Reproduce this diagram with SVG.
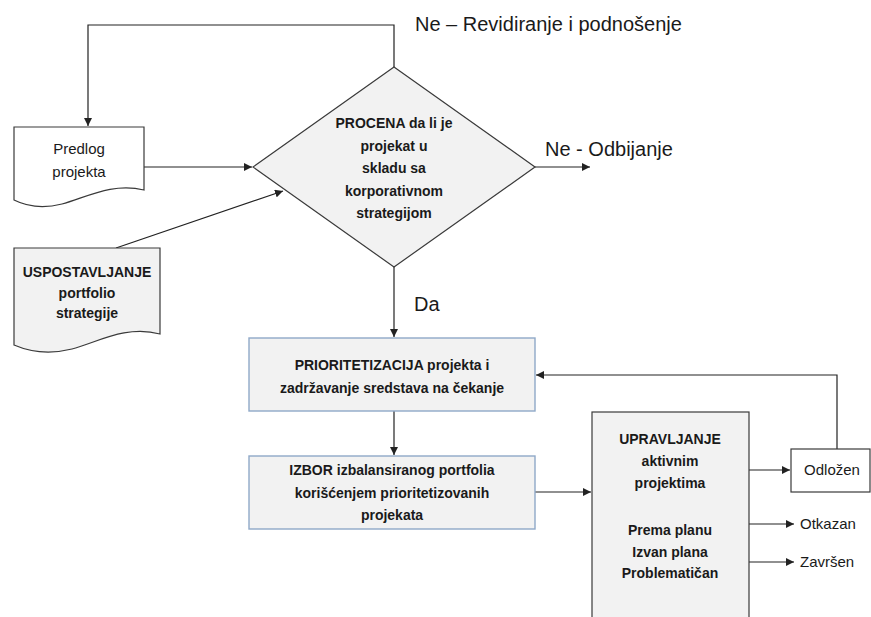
<svg xmlns="http://www.w3.org/2000/svg" width="871" height="617" viewBox="0 0 871 617">
  <style>
    .bg { fill: #ffffff; }
    .shape { stroke: #3a3a3a; stroke-width: 1.2; }
    .white { fill: #ffffff; }
    .grey { fill: #f2f2f2; }
    .step { fill: #f2f2f2; stroke: #8fa9c8; stroke-width: 1.4; }
    .line { fill: none; stroke: #222222; stroke-width: 1.2; }
    text { font-family: "Liberation Sans", Arial, sans-serif; fill: #1a1a1a; }
    .b { font-weight: bold; font-size: 14px; text-anchor: middle; }
    .n { font-size: 15px; text-anchor: middle; }
    .lbl { font-size: 15px; }
    .big { font-size: 20px; }
  </style>
  <defs>
    <marker id="arrow" viewBox="0 0 10 10" refX="10" refY="5" markerWidth="8" markerHeight="8" markerUnits="userSpaceOnUse" orient="auto">
      <path d="M0,0 L10,5 L0,10 Z" fill="#222222"/>
    </marker>
  </defs>

  <rect class="bg" x="0" y="0" width="871" height="617"/>

  <!-- connectors -->
  <g id="connectors">
    <polyline class="line" points="394,67 394,25 88,25 88,126" marker-end="url(#arrow)"/>
    <line class="line" x1="144" y1="167" x2="252" y2="167" marker-end="url(#arrow)"/>
    <line class="line" x1="116" y1="248" x2="283" y2="191" marker-end="url(#arrow)"/>
    <line class="line" x1="535" y1="167" x2="590" y2="167" marker-end="url(#arrow)"/>
    <line class="line" x1="394" y1="267" x2="394" y2="337" marker-end="url(#arrow)"/>
    <line class="line" x1="394" y1="411" x2="394" y2="455" marker-end="url(#arrow)"/>
    <line class="line" x1="535" y1="492" x2="591" y2="492" marker-end="url(#arrow)"/>
    <polyline class="line" points="837,449 837,375 536,375" marker-end="url(#arrow)"/>
    <line class="line" x1="749" y1="470" x2="790" y2="470" marker-end="url(#arrow)"/>
    <line class="line" x1="749" y1="524" x2="794" y2="524" marker-end="url(#arrow)"/>
    <line class="line" x1="749" y1="562" x2="794" y2="562" marker-end="url(#arrow)"/>
  </g>

  <!-- edge labels -->
  <text class="big" x="415" y="31">Ne – Revidiranje i podnošenje</text>
  <text class="big" x="545" y="156">Ne - Odbijanje</text>
  <text class="big" x="414" y="311">Da</text>

  <g id="predlog">
    <path class="shape white" d="M14,127 H144 V190 C112,182 85,198 62,204 C42,209 26,206 14,200 Z"/>
    <text class="n" x="79" y="154">Predlog</text>
    <text class="n" x="79" y="177">projekta</text>
  </g>

  <g id="uspostavljanje">
    <path class="shape grey" d="M14,248 H160 V334 C126,325 98,342 72,349 C48,355 28,351 14,345 Z"/>
    <text class="b" x="87" y="277">USPOSTAVLJANJE</text>
    <text class="b" x="87" y="298">portfolio</text>
    <text class="b" x="87" y="318">strategije</text>
  </g>

  <g id="procena">
    <polygon class="shape grey" points="394,67 535,167 394,267 253,167"/>
    <text class="b" x="394" y="128">PROCENA da li je</text>
    <text class="b" x="394" y="151">projekat u</text>
    <text class="b" x="394" y="173">skladu sa</text>
    <text class="b" x="394" y="196">korporativnom</text>
    <text class="b" x="394" y="218">strategijom</text>
  </g>

  <g id="prioritetizacija">
    <rect class="step" x="249" y="338" width="286" height="73"/>
    <text class="b" x="392" y="370">PRIORITETIZACIJA projekta i</text>
    <text class="b" x="392" y="393">zadržavanje sredstava na čekanje</text>
  </g>

  <g id="izbor">
    <rect class="step" x="249" y="456" width="286" height="73"/>
    <text class="b" x="392" y="475">IZBOR izbalansiranog portfolia</text>
    <text class="b" x="392" y="498">korišćenjem prioritetizovanih</text>
    <text class="b" x="392" y="520">projekata</text>
  </g>

  <g id="upravljanje">
    <rect class="shape grey" x="592" y="412" width="157" height="215"/>
    <text class="b" x="670" y="444">UPRAVLJANJE</text>
    <text class="b" x="670" y="466">aktivnim</text>
    <text class="b" x="670" y="488">projektima</text>
    <text class="b" x="670" y="535">Prema planu</text>
    <text class="b" x="670" y="557">Izvan plana</text>
    <text class="b" x="670" y="578">Problematičan</text>
  </g>

  <g id="odlozen">
    <rect class="shape white" x="791" y="449" width="79" height="43"/>
    <text class="n" x="832" y="475">Odložen</text>
  </g>

  <g id="otkazan">
    <text class="lbl" x="800" y="529">Otkazan</text>
  </g>
  <g id="zavrsen">
    <text class="lbl" x="800" y="567">Završen</text>
  </g>
</svg>
